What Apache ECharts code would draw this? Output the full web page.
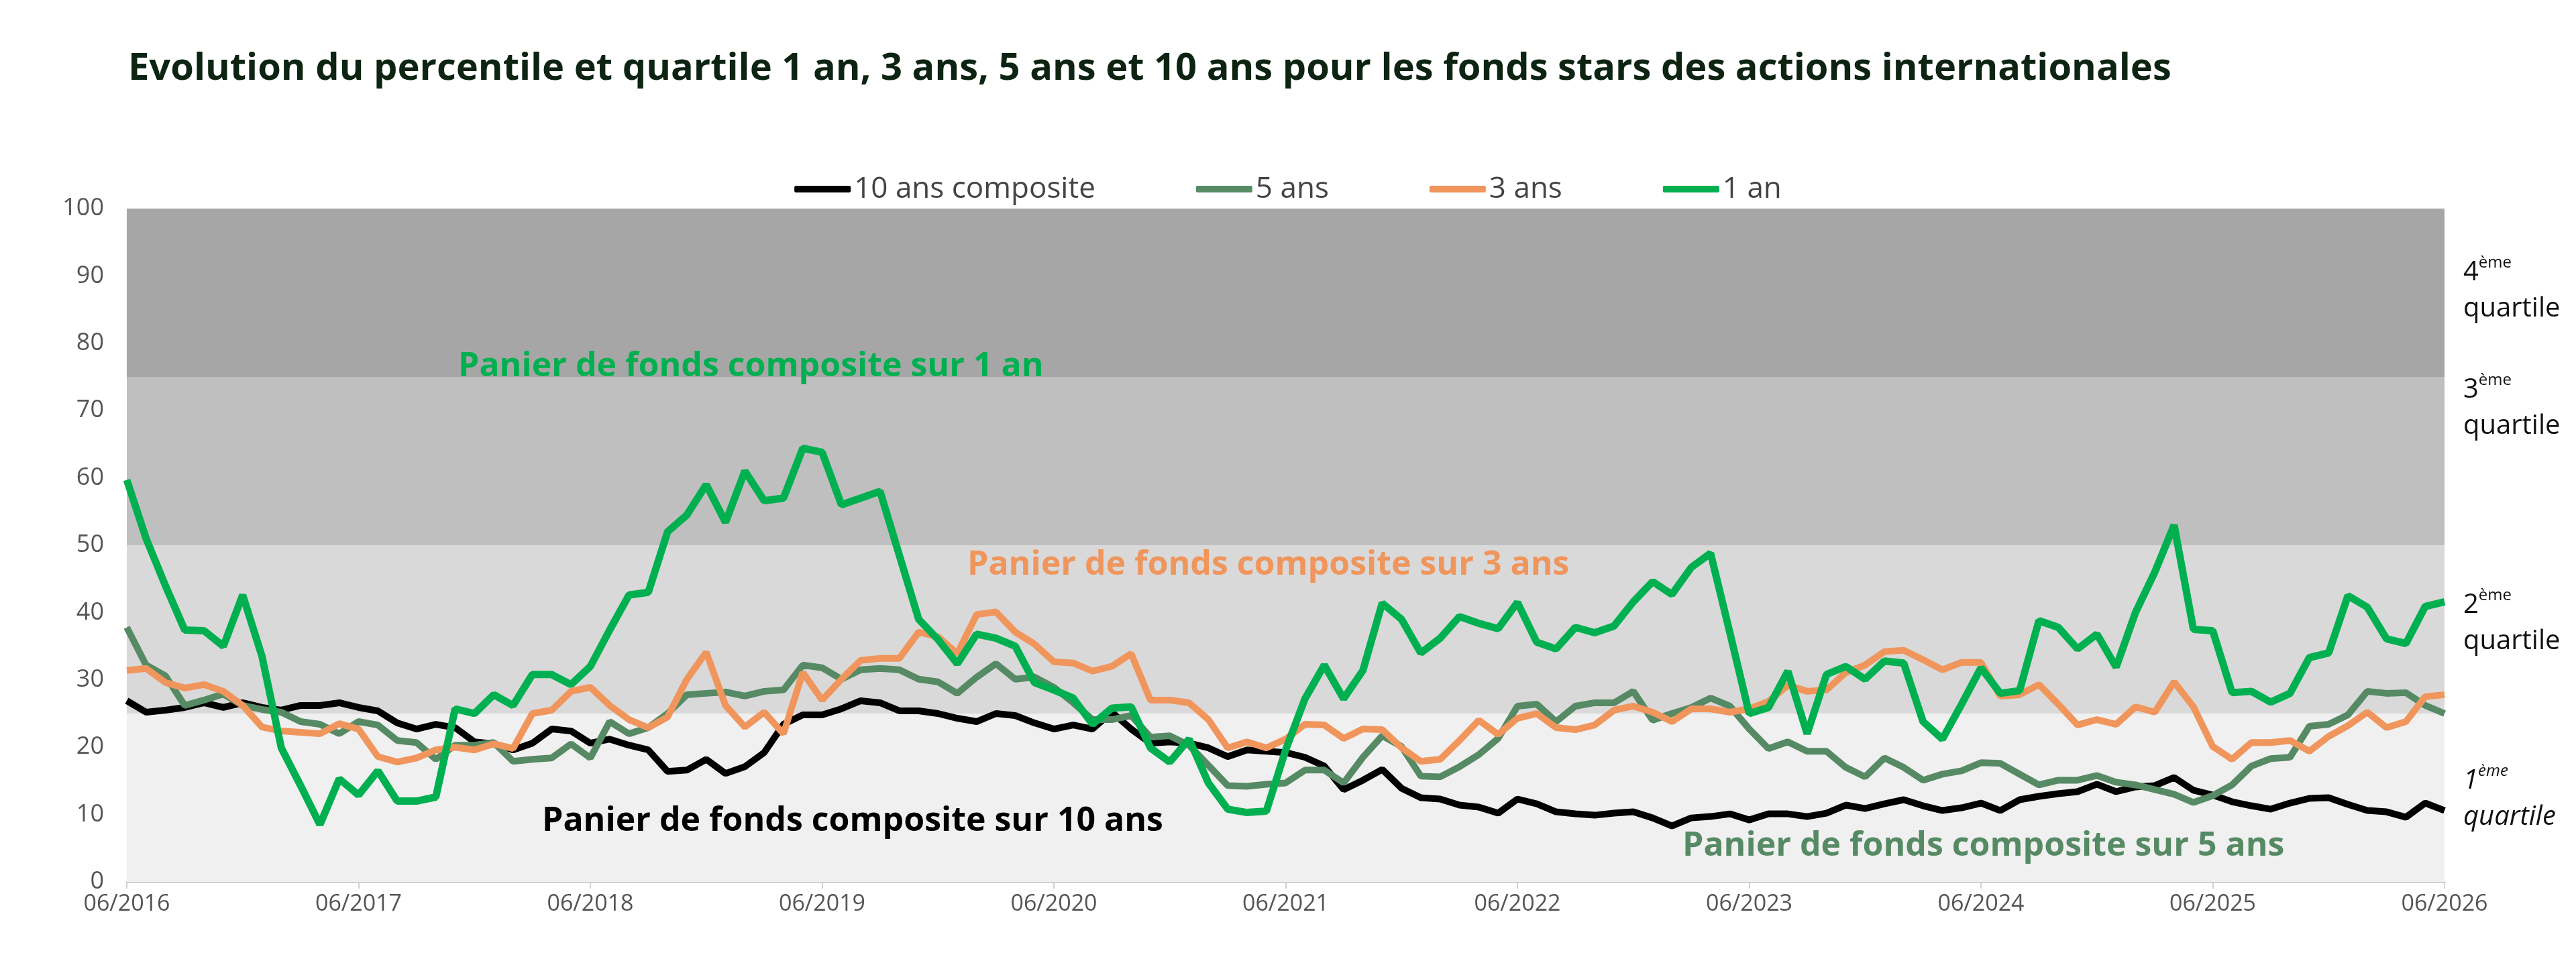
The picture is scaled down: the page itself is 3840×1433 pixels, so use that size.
<!DOCTYPE html>
<html>
<head>
    <meta charset="utf-8">
    <title>Percentile et quartile</title>
    <script src="https://cdn.jsdelivr.net/npm/echarts@6/dist/echarts.min.js"></script>
    <style>
        html, body { margin: 0; padding: 0; background: #fff; }
    </style>
</head>
<body>
<div id="main" style="width:3840px;height:1433px;"></div>
<script type="text/javascript">
    // séries mensuelles, de 06/2016 à 06/2026
    var dix = [26.9,25.2,25.5,25.9,26.6,25.9,26.6,25.9,25.5,26.2,26.2,26.6,25.9,25.4,23.6,22.7,23.4,22.9,20.8,20.5,
        19.6,20.6,22.7,22.4,20.6,21.2,20.3,19.6,16.4,16.6,18.2,16.1,17.1,19.2,23.4,24.8,24.8,25.7,26.9,26.6,
        25.4,25.4,25.0,24.3,23.8,25.0,24.7,23.6,22.7,23.3,22.7,25.2,22.7,20.6,20.8,20.6,19.9,18.6,19.6,19.4,
        19.2,18.5,17.2,13.7,15.1,16.7,13.9,12.5,12.3,11.4,11.1,10.2,12.3,11.6,10.4,10.1,9.9,10.2,10.4,9.5,
        8.3,9.5,9.7,10.1,9.2,10.1,10.1,9.7,10.2,11.4,10.9,11.6,12.2,11.3,10.6,11.0,11.7,10.6,12.2,12.7,
        13.1,13.4,14.5,13.4,14.1,14.3,15.5,13.6,12.9,11.9,11.3,10.8,11.7,12.4,12.5,11.5,10.6,10.4,9.6,11.7,10.6];
    var cinq = [37.8,32.2,30.6,26.2,27.0,27.9,26.2,25.6,25.2,23.8,23.4,22.0,23.8,23.3,21.0,20.7,18.2,20.3,20.3,20.7,
        17.9,18.2,18.4,20.5,18.4,23.8,22.0,22.9,25.0,27.8,28.0,28.2,27.6,28.3,28.5,32.2,31.8,30.1,31.5,31.7,
        31.5,30.1,29.7,28.0,30.4,32.4,30.1,30.4,28.9,26.6,24.1,24.1,24.7,21.5,21.7,20.3,17.3,14.3,14.2,14.5,
        14.7,16.6,16.6,14.7,18.5,21.7,20.1,15.7,15.6,17.1,18.9,21.3,26.1,26.4,23.8,26.1,26.6,26.6,28.3,24.0,
        25.0,25.9,27.3,26.1,22.7,19.8,20.8,19.4,19.4,17.0,15.6,18.4,17.0,15.1,16.0,16.5,17.7,17.6,16.0,14.4,
        15.1,15.1,15.8,14.8,14.4,13.7,13.0,11.8,12.8,14.4,17.2,18.3,18.5,23.1,23.4,24.8,28.3,28.0,28.1,26.2,25.0];
    var trois = [31.4,31.7,29.6,28.8,29.3,28.3,26.2,23.0,22.4,22.2,22.0,23.5,22.7,18.6,17.8,18.4,19.6,20.0,19.6,20.5,
        19.8,25.0,25.5,28.3,28.9,26.2,24.1,22.9,24.5,30.1,34.1,26.2,23.0,25.2,22.0,31.1,27.0,30.1,32.9,33.2,
        33.2,37.1,36.4,33.9,39.7,40.1,37.1,35.3,32.7,32.5,31.3,32.0,33.9,27.0,27.0,26.6,24.1,19.9,20.8,19.9,
        21.2,23.4,23.3,21.3,22.7,22.6,19.9,17.9,18.2,21.0,24.0,21.9,24.3,25.0,22.9,22.6,23.3,25.5,26.1,25.2,
        23.8,25.7,25.7,25.2,25.7,26.8,29.2,28.3,28.5,31.1,32.2,34.2,34.4,33.0,31.5,32.6,32.6,27.6,27.8,29.3,
        26.4,23.3,24.1,23.4,26.0,25.2,29.7,26.0,20.1,18.2,20.7,20.7,21.0,19.4,21.6,23.2,25.2,22.9,23.8,27.5,27.8];
    var un = [59.7,51.0,44.0,37.4,37.3,35.0,42.6,33.5,19.9,14.3,8.5,15.3,12.9,16.5,12.0,12.0,12.6,25.7,25.0,27.8,
        26.2,30.8,30.8,29.3,32.0,37.4,42.6,43.0,52.0,54.5,59.0,53.4,61.0,56.6,57.0,64.4,63.8,56.0,57.0,58.0,
        48.5,39.0,36.0,32.4,36.8,36.2,35.0,29.6,28.5,27.3,23.4,25.8,26.0,19.9,17.8,21.2,14.7,10.8,10.3,10.5,
        19.6,27.2,32.2,27.2,31.4,41.4,39.0,34.0,36.2,39.4,38.4,37.6,41.5,35.6,34.6,37.8,37.0,38.0,41.6,44.6,
        42.7,46.7,48.8,37.0,25.0,25.9,31.3,22.0,30.8,32.0,30.1,32.8,32.5,23.8,21.2,26.4,31.8,28.0,28.4,38.8,
        37.8,34.6,36.8,31.9,40.0,46.0,53.0,37.5,37.3,28.1,28.3,26.7,28.0,33.3,34.0,42.5,40.8,36.1,35.4,40.9,41.6];

    var mois = [];
    for (var i = 0; i < dix.length; i++) {
        var m = (5 + i) % 12 + 1;
        var a = 2016 + Math.floor((5 + i) / 12);
        mois.push((m < 10 ? '0' + m : m) + '/' + a);
    }

    var myChart = echarts.init(document.getElementById('main'));

    var annot = function (txt, x, y, color) {
        return {
            type: 'text', left: x, top: y, z: 100,
            style: { text: txt, fill: color, fontSize: 50, fontWeight: 'bold', fontFamily: 'Open Sans' }
        };
    };
    var quart = function (n, y, italic) {
        var st = italic ? 'italic' : 'normal';
        return {
            type: 'text', left: 3672, top: y,
            style: {
                text: '{n|' + n + '}{s|ème}\n{q|quartile}',
                align: 'center',
                rich: {
                    n: { fontSize: 40, fontFamily: 'Open Sans', fontStyle: st, fill: '#111', lineHeight: 54 },
                    s: { fontSize: 24, fontFamily: 'Open Sans', fontStyle: st, fill: '#111', verticalAlign: 'top', lineHeight: 54 },
                    q: { fontSize: 40, fontFamily: 'Open Sans', fontStyle: st, fill: '#111', lineHeight: 54 }
                }
            }
        };
    };

    var option = {
        backgroundColor: '#fff',
        title: {
            text: 'Evolution du percentile et quartile 1 an, 3 ans, 5 ans et 10 ans pour les fonds stars des actions internationales',
            left: 186, top: 70,
            textStyle: { fontSize: 56, fontWeight: 'bold', color: '#0d2412', fontFamily: 'Open Sans' }
        },
        legend: {
            top: 255, left: 'center',
            itemWidth: 84, itemHeight: 10, itemGap: 150,
            icon: 'roundRect',
            textStyle: { fontSize: 44, color: '#444', fontFamily: 'Open Sans' },
            data: ['10 ans composite', '5 ans', '3 ans', '1 an']
        },
        grid: { left: 189, right: 196, top: 311, bottom: 118 },
        xAxis: {
            type: 'category',
            boundaryGap: false,
            data: mois,
            axisLine: { lineStyle: { color: '#d0d0d0', width: 3 } },
            axisTick: { interval: 11, length: 10, lineStyle: { color: '#d0d0d0', width: 2 } },
            axisLabel: { interval: 11, fontSize: 34, color: '#555', margin: 16, fontFamily: 'Open Sans' }
        },
        yAxis: {
            type: 'value', min: 0, max: 100, interval: 10,
            splitLine: { show: false },
            axisLine: { show: false },
            axisTick: { show: false },
            axisLabel: { fontSize: 36, color: '#555', margin: 34, fontFamily: 'Open Sans' }
        },
        graphic: [
            annot('Panier de fonds composite sur 1 an', 683, 522, '#00b050'),
            annot('Panier de fonds composite sur 3 ans', 1442, 818, '#f0955c'),
            annot('Panier de fonds composite sur 10 ans', 808, 1200, '#000'),
            annot('Panier de fonds composite sur 5 ans', 2508, 1237, '#568a64'),
            quart('4', 380, false),
            quart('3', 555, false),
            quart('2', 876, false),
            quart('1', 1138, true)
        ],
        series: [
            {
                name: '10 ans composite', type: 'line', data: dix, symbol: 'none',
                lineStyle: { width: 10, color: '#000' }, itemStyle: { color: '#000' },
                markArea: {
                    silent: true,
                    data: [
                        [{ yAxis: 0, itemStyle: { color: '#f0f0f0' } }, { yAxis: 25 }],
                        [{ yAxis: 25, itemStyle: { color: '#d9d9d9' } }, { yAxis: 50 }],
                        [{ yAxis: 50, itemStyle: { color: '#bfbfbf' } }, { yAxis: 75 }],
                        [{ yAxis: 75, itemStyle: { color: '#a6a6a6' } }, { yAxis: 100 }]
                    ]
                }
            },
            {
                name: '5 ans', type: 'line', data: cinq, symbol: 'none',
                lineStyle: { width: 10, color: '#568a64' }, itemStyle: { color: '#568a64' }
            },
            {
                name: '3 ans', type: 'line', data: trois, symbol: 'none',
                lineStyle: { width: 10, color: '#f0955c' }, itemStyle: { color: '#f0955c' }
            },
            {
                name: '1 an', type: 'line', data: un, symbol: 'none',
                lineStyle: { width: 11, color: '#00b050' }, itemStyle: { color: '#00b050' }
            }
        ]
    };

    myChart.setOption(option);
</script>
</body>
</html>
